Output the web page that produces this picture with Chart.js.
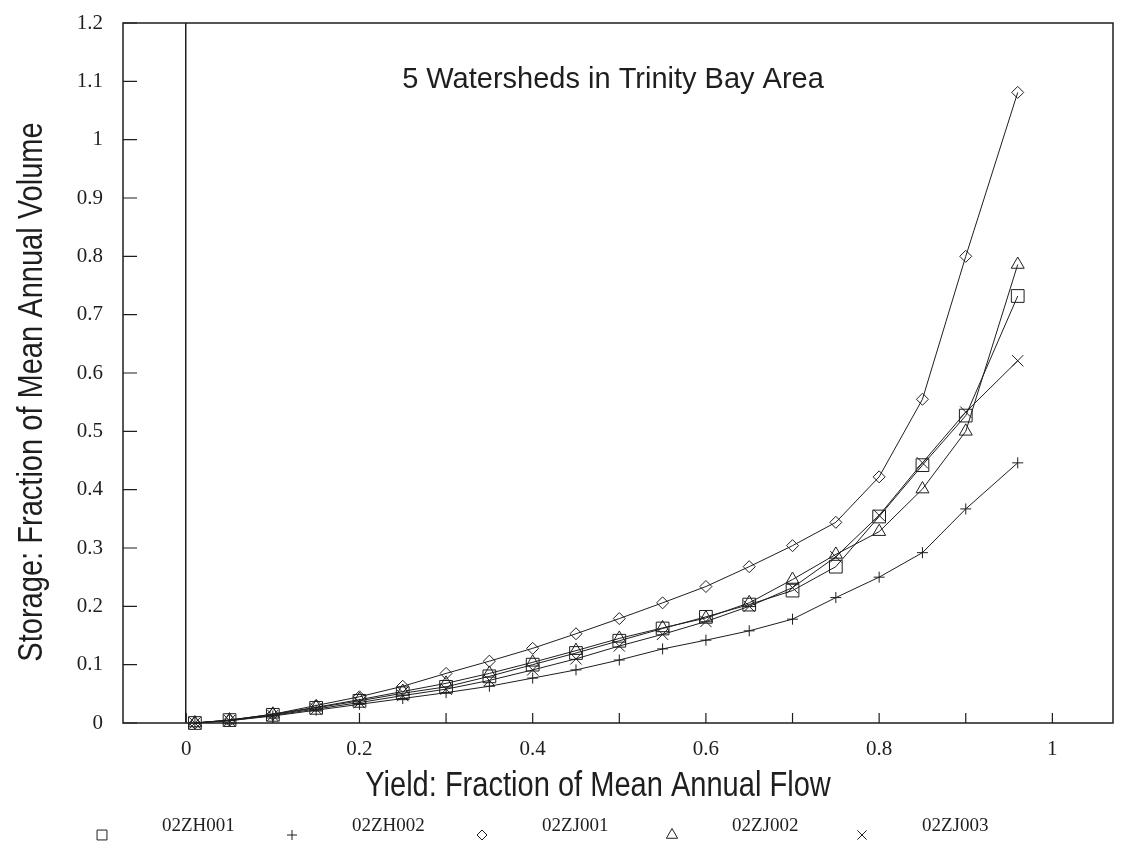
<!DOCTYPE html>
<html>
<head>
<meta charset="utf-8">
<title>5 Watersheds in Trinity Bay Area</title>
<script src="https://cdn.jsdelivr.net/npm/chart.js@4.4.1/dist/chart.umd.min.js"></script>
<style>
  html, body { margin: 0; padding: 0; background: #fff; }
  canvas { display: block; }
</style>
</head>
<body>
<canvas id="storageChart" width="1126" height="850"></canvas>
<script>
// Yield (fraction of mean annual flow), same for every watershed
const yields = [0.01, 0.05, 0.10, 0.15, 0.20, 0.25, 0.30, 0.35, 0.40, 0.45,
                0.50, 0.55, 0.60, 0.65, 0.70, 0.75, 0.80, 0.85, 0.90, 0.96];

// Storage (fraction of mean annual volume)
const storageZH001 = [0, 0.005, 0.014, 0.026, 0.038, 0.051, 0.062, 0.080, 0.100, 0.120,
                      0.141, 0.162, 0.182, 0.203, 0.227, 0.268, 0.354, 0.442, 0.527, 0.732];
const storageZH002 = [0, 0.004, 0.012, 0.022, 0.032, 0.042, 0.052, 0.063, 0.077, 0.091,
                      0.108, 0.127, 0.142, 0.158, 0.178, 0.215, 0.250, 0.292, 0.367, 0.446];
const storageZJ001 = [0, 0.005, 0.015, 0.030, 0.045, 0.063, 0.085, 0.106, 0.128, 0.153,
                      0.179, 0.206, 0.234, 0.268, 0.304, 0.344, 0.422, 0.555, 0.800, 1.081];
const storageZJ002 = [0, 0.005, 0.015, 0.027, 0.040, 0.054, 0.068, 0.085, 0.104, 0.124,
                      0.145, 0.163, 0.180, 0.206, 0.246, 0.289, 0.328, 0.401, 0.500, 0.786];
const storageZJ003 = [0, 0.004, 0.013, 0.024, 0.035, 0.047, 0.058, 0.073, 0.091, 0.110,
                      0.132, 0.152, 0.174, 0.200, 0.232, 0.285, 0.356, 0.446, 0.533, 0.621];

const stations = ['02ZH001', '02ZH002', '02ZJ001', '02ZJ002', '02ZJ003'];

// Axis ticks and their labels
const xTicks = [0, 0.1, 0.2, 0.3, 0.4, 0.5, 0.6, 0.7, 0.8, 0.9, 1];
const xTickLabels = ['0', '', '0.2', '', '0.4', '', '0.6', '', '0.8', '', '1'];
const yTicks = [0, 0.1, 0.2, 0.3, 0.4, 0.5, 0.6, 0.7, 0.8, 0.9, 1, 1.1, 1.2];
const yTickLabels = ['0', '0.1', '0.2', '0.3', '0.4', '0.5', '0.6', '0.7', '0.8', '0.9', '1', '1.1', '1.2'];

const chartTitle = '5 Watersheds in Trinity Bay Area';
const xTitle = 'Yield: Fraction of Mean Annual Flow';
const yTitle = 'Storage: Fraction of Mean Annual Volume';

// Marker look for each station
const markerStyles = ['rect', 'cross', 'rectRot', 'triangle', 'crossRot'];
const markerSizes = [9, 5.5, 6, 7.5, 8];
const legendSizes = [7, 5, 5, 6.5, 6.5];
const ink = '#1e1e1e';
const serif = '"Liberation Serif", "Times New Roman", serif';
const sans = '"Liberation Sans", Arial, sans-serif';

const series = [storageZH001, storageZH002, storageZJ001, storageZJ002, storageZJ003];

function toPoints(values) {
    return yields.map((x, i) => ({ x: x, y: values[i] }));
}

const datasets = series.map((values, i) => ({
    label: stations[i],
    data: toPoints(values),
    showLine: true,
    borderColor: ink,
    borderWidth: 1,
    backgroundColor: 'rgba(0,0,0,0)',
    pointStyle: markerStyles[i],
    pointRadius: markerSizes[i],
    pointBorderColor: ink,
    pointBorderWidth: 1,
    pointBackgroundColor: 'rgba(0,0,0,0)',
    tension: 0,
    clip: false
}));

// narrow text: the original axis titles use a condensed face
function condensedText(ctx, text, x, y, angle) {
    ctx.save();
    ctx.translate(x, y);
    ctx.rotate(angle);
    ctx.scale(0.83, 1);
    ctx.fillText(text, 0, 0);
    ctx.restore();
}

// Box round the plot, inward tick marks, titles and legend row
const framePlugin = {
    id: 'frame',
    afterDraw(chart) {
        const { ctx, chartArea: a, scales } = chart;
        ctx.save();
        ctx.strokeStyle = ink;
        ctx.lineWidth = 1.5;
        ctx.strokeRect(a.left, a.top, a.right - a.left, a.bottom - a.top);

        ctx.lineWidth = 1.2;
        ctx.beginPath();
        yTicks.forEach(v => {
            const y = scales.y.getPixelForValue(v);
            ctx.moveTo(a.left, y);
            ctx.lineTo(a.left + 14, y);
        });
        xTicks.forEach(v => {
            const x = scales.x.getPixelForValue(v);
            ctx.moveTo(x, a.bottom);
            ctx.lineTo(x, a.bottom - 10);
        });
        ctx.stroke();

        ctx.fillStyle = ink;
        ctx.textAlign = 'center';
        ctx.textBaseline = 'middle';
        ctx.font = '29px ' + sans;
        ctx.fillText(chartTitle, 613, 80);

        ctx.font = '35px ' + sans;
        condensedText(ctx, xTitle, 598, 786, 0);
        condensedText(ctx, yTitle, 32, 392, -Math.PI / 2);

        // legend: symbol then station name
        ctx.font = '19px ' + serif;
        ctx.textAlign = 'left';
        stations.forEach((name, i) => {
            const tx = 162 + i * 190;
            ctx.fillStyle = 'rgba(0,0,0,0)';
            ctx.strokeStyle = ink;
            ctx.lineWidth = 1;
            Chart.helpers.drawPoint(ctx, {
                pointStyle: markerStyles[i],
                radius: legendSizes[i],
                borderWidth: 1,
                rotation: 0
            }, tx - 60, 835);
            ctx.fillStyle = ink;
            ctx.fillText(name, tx, 826);
        });
        ctx.restore();
    }
};

const ctx = document.getElementById('storageChart').getContext('2d');
const storageChart = new Chart(ctx, {
    type: 'scatter',
    data: { datasets: datasets },
    options: {
        responsive: false,
        animation: false,
        devicePixelRatio: 1,
        layout: { padding: { top: 23, right: 13, bottom: 45, left: 0 } },
        plugins: {
            legend: { display: false },
            tooltip: { enabled: false }
        },
        scales: {
            x: {
                type: 'linear',
                min: -0.073,
                max: 1.07,
                afterBuildTicks: s => { s.ticks = xTicks.map(v => ({ value: v })); },
                afterFit: s => { s.height = 82; s.paddingLeft = 0; s.paddingRight = 0; },
                grid: {
                    drawTicks: false,
                    lineWidth: 1.5,
                    color: c => (c.tick && c.tick.value === 0) ? ink : 'rgba(0,0,0,0)'
                },
                border: { display: false },
                ticks: {
                    autoSkip: false,
                    maxRotation: 0,
                    padding: 14,
                    color: ink,
                    font: { family: serif, size: 21 },
                    callback: (v, i) => xTickLabels[i]
                }
            },
            y: {
                type: 'linear',
                min: 0,
                max: 1.2,
                afterBuildTicks: s => { s.ticks = yTicks.map(v => ({ value: v })); },
                afterFit: s => { s.width = 123; s.paddingTop = 0; s.paddingBottom = 0; },
                grid: { display: false, drawTicks: false },
                border: { display: false },
                ticks: {
                    padding: 20,
                    color: ink,
                    font: { family: serif, size: 21 },
                    callback: (v, i) => yTickLabels[i]
                }
            }
        }
    },
    plugins: [framePlugin]
});
</script>
</body>
</html>
